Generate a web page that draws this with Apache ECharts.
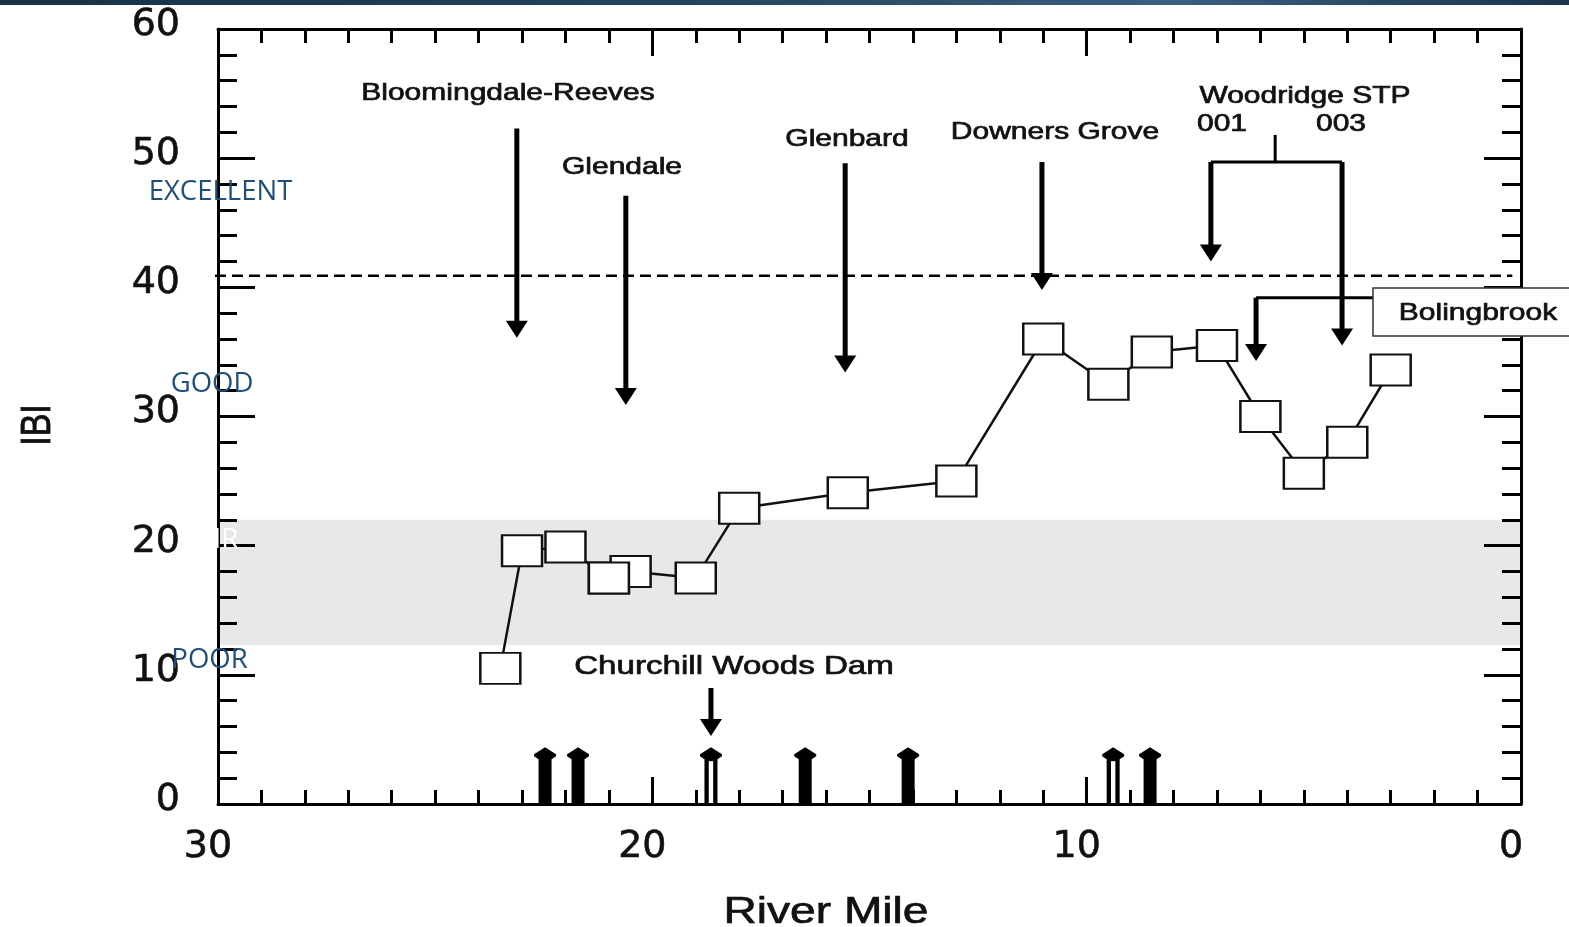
<!DOCTYPE html>
<html><head><meta charset="utf-8">
<script src="https://cdn.jsdelivr.net/npm/echarts@6/dist/echarts.min.js"></script>
<style>html,body{margin:0;padding:0;background:#fff;}#c{width:1569px;height:927px;}</style>
</head><body><div id="c"></div>
<script>
// ---- data ----
const riverMile = [23.5, 23, 22, 21, 20.5, 19, 18, 15.5, 13, 11, 9.5, 8.5, 7, 6, 5, 4, 3];
const ibi = [10.5, 19.6, 19.9, 17.5, 18, 17.5, 22.9, 24.1, 25, 36, 32.5, 35, 35.5, 30, 25.6, 28, 33.6];
const xTickLabels = ['0', '10', '20', '30'];
const yTickLabels = ['0', '10', '20', '30', '40', '50', '60'];
const fairBand = [12.3, 22];
const excellentLine = 40.9;
const dischargeNames = ['Bloomingdale-Reeves', 'Glendale', 'Glenbard', 'Downers Grove', 'Woodridge STP 001', 'Woodridge STP 003', 'Bolingbrook', 'Churchill Woods Dam'];
const dischargeMile = [23.12, 20.61, 15.56, 11.03, 7.14, 4.12, 6.10, 18.65];
const dischargeTop = [52.3, 47.1, 49.6, 49.7, 49.7, 49.7, 39.2, 8.98];
const dischargeTip = [36.1, 30.9, 33.4, 39.8, 42.0, 35.5, 34.3, 5.26];
// connector segments [mile1, ibi1, mile2, ibi2]
const connectors = [[7.14, 49.7, 4.12, 49.7], [5.66, 51.8, 5.66, 49.7], [6.10, 39.2, 3.41, 39.2]];
const bottomArrowMile = [22.47, 21.71, 18.65, 16.48, 14.11, 9.39, 8.54];
const bottomArrowHollow = [0, 0, 1, 0, 0, 1, 0];
const bottomArrowHeight = 4.4;
const ratingNames = ['EXCELLENT', 'GOOD', 'FAIR', 'POOR'];

// ---- chart ----
const chart = echarts.init(document.getElementById('c'));
const annFont = '"Liberation Sans", Arial, sans-serif';
function ann(text, x, y, size, extra) {
  return Object.assign({
    type: 'text', x: x, y: y, scaleX: 1.25, z: 100,
    style: { text: text, x: 0, y: 0, align: 'center', verticalAlign: 'middle',
      font: size + 'px ' + annFont, fill: '#111', stroke: '#111', lineWidth: 0.7 }
  }, extra || {});
}
function rating(text, x, y, color) {
  return { type: 'text', x: x, y: y, z: 100,
    style: { text: text, x: 0, y: 0, align: 'center', verticalAlign: 'middle',
      font: '27.5px "Open Sans", sans-serif', fill: color } };
}
const axisLineStyle = { color: '#000', width: 3 };
const baseX = {
  type: 'value', min: 0, max: 30, interval: 10, inverse: true, z: 3,
  axisLine: { show: true, onZero: false, lineStyle: axisLineStyle },
  axisTick: { show: true, inside: true, length: 27, lineStyle: { color: '#000', width: 3 } },
  minorTick: { show: true, splitNumber: 10, length: 14, lineStyle: { color: '#000', width: 3 } },
  splitLine: { show: false }, minorSplitLine: { show: false }
};
const baseY = {
  type: 'value', min: 0, max: 60, interval: 10, z: 3,
  axisLine: { show: true, onZero: false, lineStyle: axisLineStyle },
  axisTick: { show: true, inside: true, length: 37, lineStyle: { color: '#000', width: 3 } },
  minorTick: { show: true, splitNumber: 5, length: 19, lineStyle: { color: '#000', width: 3 } },
  splitLine: { show: false }, minorSplitLine: { show: false }
};
const tickLabelStyle = { fontSize: 38, color: '#111', fontFamily: 'DejaVu Sans',
  textBorderColor: '#111', textBorderWidth: 0.6 };

const option = {
  animation: false,
  backgroundColor: '#fff',
  grid: { left: 218, right: 48, top: 29, bottom: 123 },
  xAxis: [
    Object.assign({}, baseX, { position: 'bottom',
      axisLabel: Object.assign({ show: true, margin: 24, padding: [0, 20, 0, 0],
        formatter: v => xTickLabels[xTickLabels.indexOf(String(v))] }, tickLabelStyle) }),
    Object.assign({}, baseX, { position: 'top', axisLabel: { show: false } })
  ],
  yAxis: [
    Object.assign({}, baseY, { position: 'left',
      axisLabel: Object.assign({ show: true, margin: 38, verticalAlign: 'bottom', lineHeight: 8,
        formatter: v => yTickLabels[yTickLabels.indexOf(String(v))] }, tickLabelStyle) }),
    Object.assign({}, baseY, { position: 'right', axisLabel: { show: false } })
  ],
  graphic: [
    { type: 'rect', z: 50, shape: { x: 0, y: 0, width: 1569, height: 5 },
      style: { fill: new echarts.graphic.LinearGradient(0, 0, 1, 0, [
        { offset: 0, color: '#183246' }, { offset: 0.45, color: '#24445e' },
        { offset: 0.75, color: '#3a5f80' }, { offset: 1, color: '#1b344d' }]) } },
    { type: 'rect', z: 90, shape: { x: 1373, y: 288, width: 220, height: 48 },
      style: { fill: '#fff', stroke: '#333', lineWidth: 1.5 } },
    ann(dischargeNames[0], 508, 93, 24),
    ann(dischargeNames[1], 622, 167, 24),
    ann(dischargeNames[2], 847, 139, 24),
    ann(dischargeNames[3], 1055, 132, 24),
    ann('Woodridge STP', 1305, 96, 24),
    ann('001', 1222, 124, 24),
    ann('003', 1341, 124, 24),
    ann(dischargeNames[6], 1478, 313, 24),
    ann(dischargeNames[7], 734, 667, 26.5),
    ann('River Mile', 826, 913, 37.5, { scaleX: 1.23 }),
    ann('IBI', 38, 425, 34, { scaleX: 1, scaleY: 1.25, rotation: Math.PI / 2 }),
    rating(ratingNames[0], 220.5, 192, '#1f4e79'),
    rating(ratingNames[1], 212, 384, '#1f4e79'),
    rating(ratingNames[2], 210, 540, '#ffffff'),
    rating(ratingNames[3], 209.5, 660, '#1f4e79')
  ],
  series: [
    { // fair band
      type: 'custom', z: 1, silent: true,
      data: [fairBand],
      renderItem: (params, api) => {
        const a = api.coord([30, api.value(1)]);
        const b = api.coord([0, api.value(0)]);
        return { type: 'rect', shape: { x: a[0] + 2, y: a[1], width: b[0] - a[0] - 3, height: b[1] - a[1] },
          style: { fill: '#e8e8e8' } };
      }
    },
    { // excellent threshold dashed line
      type: 'custom', z: 2, silent: true,
      data: [[excellentLine]],
      renderItem: (params, api) => {
        const a = api.coord([30.07, api.value(0)]);
        const b = api.coord([0.2, api.value(0)]);
        return { type: 'line', shape: { x1: a[0], y1: a[1], x2: b[0], y2: b[1] },
          style: { stroke: '#000', lineWidth: 2.5, lineDash: [11, 6] } };
      }
    },
    { // discharge arrows (down)
      type: 'custom', z: 4, silent: true,
      data: dischargeMile.map((m, i) => [m, dischargeTop[i], dischargeTip[i]]),
      renderItem: (params, api) => {
        const p1 = api.coord([api.value(0), api.value(1)]);
        const p2 = api.coord([api.value(0), api.value(2)]);
        const hw = 11, hh = 17, sw = 5;
        return { type: 'group', children: [
          { type: 'rect', shape: { x: p1[0] - sw / 2, y: p1[1], width: sw, height: p2[1] - hh - p1[1] + 2 }, style: { fill: '#000' } },
          { type: 'polygon', shape: { points: [[p2[0] - hw, p2[1] - hh], [p2[0] + hw, p2[1] - hh], [p2[0], p2[1]]] }, style: { fill: '#000' } }
        ] };
      }
    },
    { // connectors
      type: 'custom', z: 4, silent: true,
      data: connectors,
      renderItem: (params, api) => {
        const a = api.coord([api.value(0), api.value(1)]);
        const b = api.coord([api.value(2), api.value(3)]);
        return { type: 'line', shape: { x1: a[0], y1: a[1], x2: b[0], y2: b[1] },
          style: { stroke: '#000', lineWidth: 3 } };
      }
    },
    { // bottom up arrows
      type: 'custom', z: 4, silent: true,
      data: bottomArrowMile.map((m, i) => [m, bottomArrowHollow[i]]),
      renderItem: (params, api) => {
        const b = api.coord([api.value(0), 0]);
        const t = api.coord([api.value(0), bottomArrowHeight]);
        const cx = b[0], yb = b[1] - 1, yt = t[1];
        const pts = [[cx, yt], [cx + 11, yt + 7], [cx + 11, yt + 9], [cx + 6.5, yt + 12], [cx + 6.5, yb],
          [cx - 6.5, yb], [cx - 6.5, yt + 12], [cx - 11, yt + 9], [cx - 11, yt + 7]];
        const ch = [{ type: 'polygon', shape: { points: pts }, style: { fill: '#000' } }];
        if (api.value(1)) {
          ch.push({ type: 'rect', shape: { x: cx - 2.2, y: yt + 14, width: 4.4, height: yb - yt - 14 }, style: { fill: '#fff' } });
        }
        return { type: 'group', children: ch };
      }
    },
    { // IBI line
      type: 'line', z: 5,
      data: riverMile.map((m, i) => [m, ibi[i]]),
      symbol: 'rect', symbolSize: [40, 31],
      lineStyle: { color: '#111', width: 2.5 },
      itemStyle: { color: '#fff', borderColor: '#111', borderWidth: 2.2 }
    },
    { // overlapping square drawn in front
      type: 'scatter', z: 6,
      data: [[riverMile[3], ibi[3]]],
      symbol: 'rect', symbolSize: [40, 31],
      itemStyle: { color: '#fff', borderColor: '#111', borderWidth: 2.2, opacity: 1 }
    }
  ]
};
chart.setOption(option);
</script>
</body></html>
